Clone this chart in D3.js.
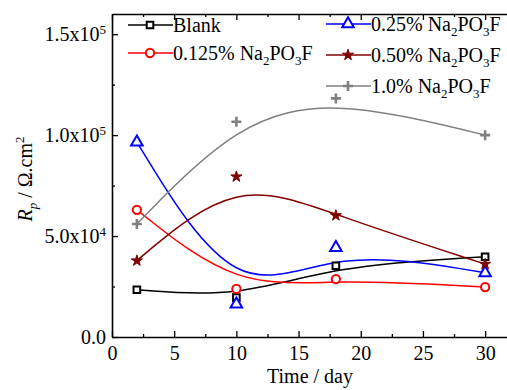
<!DOCTYPE html>
<html>
<head>
<meta charset="utf-8">
<script src="https://cdn.jsdelivr.net/npm/d3@7"></script>
<style>
  body { margin: 0; background: #fff; }
  svg { display: block; font-family: "Liberation Serif", "Times New Roman", serif; }
</style>
</head>
<body>
<svg id="chart" width="507" height="390"></svg>
<script>
// data
var days = [2, 10, 18, 30];
var blank = [23400, 19500, 35300, 39750];
var na125 = [63000, 23800, 28700, 24750];
var na25 = [96500, 16300, 44200, 31800];
var na50 = [37800, 79400, 60200, 36100];
var na100 = [56000, 106600, 118200, 100000];

var seriesNames = ["Blank", "0.125%", "0.25%", "0.50%", "1.0%"];
var xTicks = [0, 5, 10, 15, 20, 25, 30];
var xMinor = [2.5, 7.5, 12.5, 17.5, 22.5, 27.5];
var yTicks = [0, 50000, 100000, 150000];
var yMinor = [25000, 75000, 125000];
var yTickMant = ["0.0", "5.0x10", "1.0x10", "1.5x10"];
var yTickExp = ["", "4", "5", "5"];

var svg = d3.select("#chart");
var pLeft = 112, pRight = 510, pTop = 14, pBottom = 337;

var x = d3.scaleLinear().domain([0, 32]).range([pLeft, pRight]);
var y = d3.scaleLinear().domain([0, 160000]).range([pBottom, pTop]);

var series = [
  { name: seriesNames[0], vals: blank, color: "#000000", shape: "square" },
  { name: seriesNames[1], vals: na125, color: "#ff0000", shape: "circle" },
  { name: seriesNames[2], vals: na25, color: "#0000ff", shape: "triangle" },
  { name: seriesNames[3], vals: na50, color: "#800000", shape: "star" },
  { name: seriesNames[4], vals: na100, color: "#808080", shape: "plus" }
];

// axes
function styleAxis(g) {
  g.attr("font-family", "Liberation Serif");
  g.selectAll(".domain").attr("stroke", "#000").attr("stroke-width", 1.6);
  g.selectAll(".tick line").attr("stroke", "#000").attr("stroke-width", 1.3);
}

var gx = svg.append("g").attr("transform", "translate(0," + pBottom + ")")
  .call(d3.axisBottom(x).tickValues(xTicks).tickSize(-6).tickSizeOuter(0).tickPadding(9));
gx.selectAll("text").attr("font-size", 20).attr("fill", "#000");
styleAxis(gx);
svg.append("g").attr("transform", "translate(0," + pBottom + ")")
  .call(d3.axisBottom(x).tickValues(xMinor).tickSize(-3).tickFormat(""))
  .call(function (g) { g.select(".domain").remove(); styleAxis(g); });

var gt = svg.append("g").attr("transform", "translate(0," + pTop + ")")
  .call(d3.axisTop(x).tickValues(xTicks).tickSize(-6).tickSizeOuter(0).tickFormat(""));
styleAxis(gt);
svg.append("g").attr("transform", "translate(0," + pTop + ")")
  .call(d3.axisTop(x).tickValues(xMinor).tickSize(-3).tickFormat(""))
  .call(function (g) { g.select(".domain").remove(); styleAxis(g); });

var gy = svg.append("g").attr("transform", "translate(" + pLeft + ",0)")
  .call(d3.axisLeft(y).tickValues(yTicks).tickSize(-6).tickSizeOuter(0).tickPadding(6));
styleAxis(gy);
gy.selectAll(".tick text").each(function (d, i) {
  var t = d3.select(this).text(null).attr("font-size", 20).attr("fill", "#000");
  t.append("tspan").text(yTickMant[i]);
  if (yTickExp[i]) t.append("tspan").attr("font-size", 13).attr("dy", "-0.55em").text(yTickExp[i]);
});
svg.append("g").attr("transform", "translate(" + pLeft + ",0)")
  .call(d3.axisLeft(y).tickValues(yMinor).tickSize(-3).tickFormat(""))
  .call(function (g) { g.select(".domain").remove(); styleAxis(g); });

// axis titles
svg.append("text").attr("x", (pLeft + pRight) / 2 - 1).attr("y", 383)
  .attr("text-anchor", "middle").attr("font-size", 20).text("Time / day");

var yt = svg.append("text").attr("transform", "translate(32,179) rotate(-90)")
  .attr("text-anchor", "middle").attr("font-size", 20);
yt.append("tspan").attr("font-style", "italic").text("R");
yt.append("tspan").attr("font-style", "italic").attr("font-size", 13).attr("dy", 5).text("p");
yt.append("tspan").attr("dy", -5).text(" / \u03A9.cm");
yt.append("tspan").attr("font-size", 13).attr("dy", -8).text("2");

// markers
function drawMarker(g, shape, color) {
  if (shape === "square") {
    g.append("path").attr("d", d3.symbol(d3.symbolSquare, 44)())
      .attr("fill", "#fff").attr("stroke", color).attr("stroke-width", 2);
  } else if (shape === "circle") {
    g.append("path").attr("d", d3.symbol(d3.symbolCircle, 54)())
      .attr("fill", "#fff").attr("stroke", color).attr("stroke-width", 2);
  } else if (shape === "triangle") {
    g.append("path").attr("d", d3.symbol(d3.symbolTriangle, 58)())
      .attr("fill", "#fff").attr("stroke", color).attr("stroke-width", 2);
  } else if (shape === "star") {
    g.append("path").attr("d", d3.symbol(d3.symbolStar, 38)())
      .attr("fill", color).attr("stroke", color).attr("stroke-width", 1);
  } else if (shape === "plus") {
    g.append("path").attr("d", "M-5,0H5M0,-5V5")
      .attr("fill", "none").attr("stroke", color).attr("stroke-width", 2.6);
  }
}

// B-spline curves
var line = d3.line()
  .x(function (d) { return x(d[0]); })
  .y(function (d) { return y(d[1]); })
  .curve(d3.curveBasis);

series.forEach(function (s) {
  var pts = days.map(function (d, i) { return [d, s.vals[i]]; });
  svg.append("path").datum(pts).attr("d", line)
    .attr("fill", "none").attr("stroke", s.color).attr("stroke-width", 1.5);
});

series.forEach(function (s) {
  days.forEach(function (d, i) {
    var g = svg.append("g").attr("transform", "translate(" + x(d) + "," + y(s.vals[i]) + ")");
    drawMarker(g, s.shape, s.color);
  });
});

// legend
var legendPos = [[128, 25], [128, 53], [326, 24], [326, 55], [326, 86]];
series.forEach(function (s, i) {
  var lx = legendPos[i][0], ly = legendPos[i][1];
  var g = svg.append("g");
  g.append("line").attr("x1", lx).attr("x2", lx + 45).attr("y1", ly).attr("y2", ly)
    .attr("stroke", s.color).attr("stroke-width", 1.5);
  drawMarker(g.append("g").attr("transform", "translate(" + (lx + 22) + "," + ly + ")"), s.shape, s.color);
  var t = g.append("text").attr("x", lx + 45).attr("y", ly + 7).attr("font-size", 20);
  if (i === 0) {
    t.text(s.name);
  } else {
    t.append("tspan").text(s.name + " Na");
    t.append("tspan").attr("font-size", 13).attr("dy", 5).text("2");
    t.append("tspan").attr("dy", -5).text("PO");
    t.append("tspan").attr("font-size", 13).attr("dy", 5).text("3");
    t.append("tspan").attr("dy", -5).text("F");
  }
});
</script>
</body>
</html>
